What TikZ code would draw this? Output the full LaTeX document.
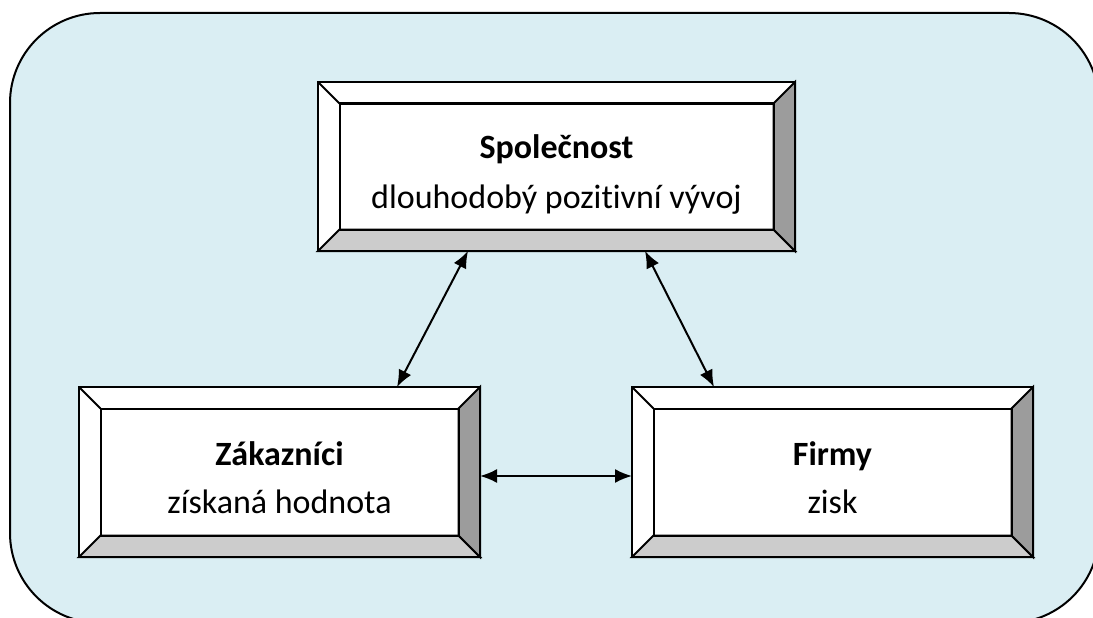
\documentclass[tikz,border=0pt]{standalone}
\usepackage{fontspec}
\setmainfont{Carlito}[Ligatures={NoCommon}]
\usetikzlibrary{arrows.meta,calc}

\definecolor{paneblue}{HTML}{DAEEF3}
\definecolor{bevellight}{HTML}{CCCCCC}
\definecolor{beveldark}{HTML}{9C9C9C}

% Bevelled frame round a named box: #1 = node name, #2 = bevel depth
\newcommand\bevelframe[2]{%
  \coordinate (#1-inw) at ($(#1.north west)+(#2,#2)$);
  \coordinate (#1-ine) at ($(#1.north east)+(-#2,#2)$);
  \coordinate (#1-ise) at ($(#1.south east)+(-#2,-#2)$);
  \coordinate (#1-isw) at ($(#1.south west)+(#2,-#2)$);
  \filldraw[framelines, fill=bevellight] (#1.south west) -- (#1.south east) -- (#1-ise) -- (#1-isw) -- cycle;
  \filldraw[framelines, fill=beveldark] (#1.south east) -- (#1.north east) -- (#1-ine) -- (#1-ise) -- cycle;
  \draw[framelines] (#1.north west) -- (#1-inw);
  \draw[framelines] (#1-inw) rectangle (#1-ise);
  \draw[framelines] (#1.north west) rectangle (#1.south east);
}

\tikzset{
  x=1pt, y=-1pt,
  framelines/.style={line width=2pt, line join=miter},
  bevelbox/.style={fill=white, framelines, draw, outer sep=0pt, inner sep=0pt,
    minimum height=170pt},
  titletext/.style={anchor=base, inner sep=0pt, font=\fontsize{34}{40}\selectfont\bfseries},
  bodytext/.style={anchor=base, inner sep=0pt, font=\fontsize{34}{40}\selectfont},
  link/.style={line width=2pt, {Latex[length=17pt,width=14pt]}-{Latex[length=17pt,width=14pt]}},
}

\begin{document}
\begin{tikzpicture}
  \useasboundingbox (0,0) rectangle (1093,618);

  % rounded pane behind everything, running off the right and bottom edges
  \begin{scope}
    \clip (0,0) rectangle (1093,618);
    \draw[line width=2pt, fill=paneblue, rounded corners=90pt] (10,13) rectangle (1099,623);
  \end{scope}

  % boxes
  \node[bevelbox, minimum width=477pt, minimum height=169pt] (soc) at (556.5,166.5) {};
  \node[bevelbox, minimum width=401pt] (zak) at (279.5,472) {};
  \node[bevelbox, minimum width=401pt] (fir) at (832.5,472) {};
  \bevelframe{soc}{21.5}
  \bevelframe{zak}{21.5}
  \bevelframe{fir}{21.5}

  % texts
  \node[titletext] (soc-title) at (556.5,158) {Společnost};
  \node[bodytext]  (soc-body)  at (556.5,208) {dlouhodobý pozitivní vývoj};
  \node[titletext] (zak-title) at (279.5,465) {Zákazníci};
  \node[bodytext]  (zak-body)  at (279.5,513) {získaná hodnota};
  \node[titletext] (fir-title) at (832.5,465) {Firmy};
  \node[bodytext]  (fir-body)  at (832.5,513) {zisk};

  % connectors
  \draw[link] ($(soc.south)+(-88.5,0)$) -- ($(zak.north)+(117.5,0)$);
  \draw[link] ($(soc.south)+(88.5,0)$) -- ($(fir.north)+(-118.5,0)$);
  \draw[link] ($(zak.east)+(0,4)$) -- ($(fir.west)+(0,4)$);
\end{tikzpicture}
\end{document}
